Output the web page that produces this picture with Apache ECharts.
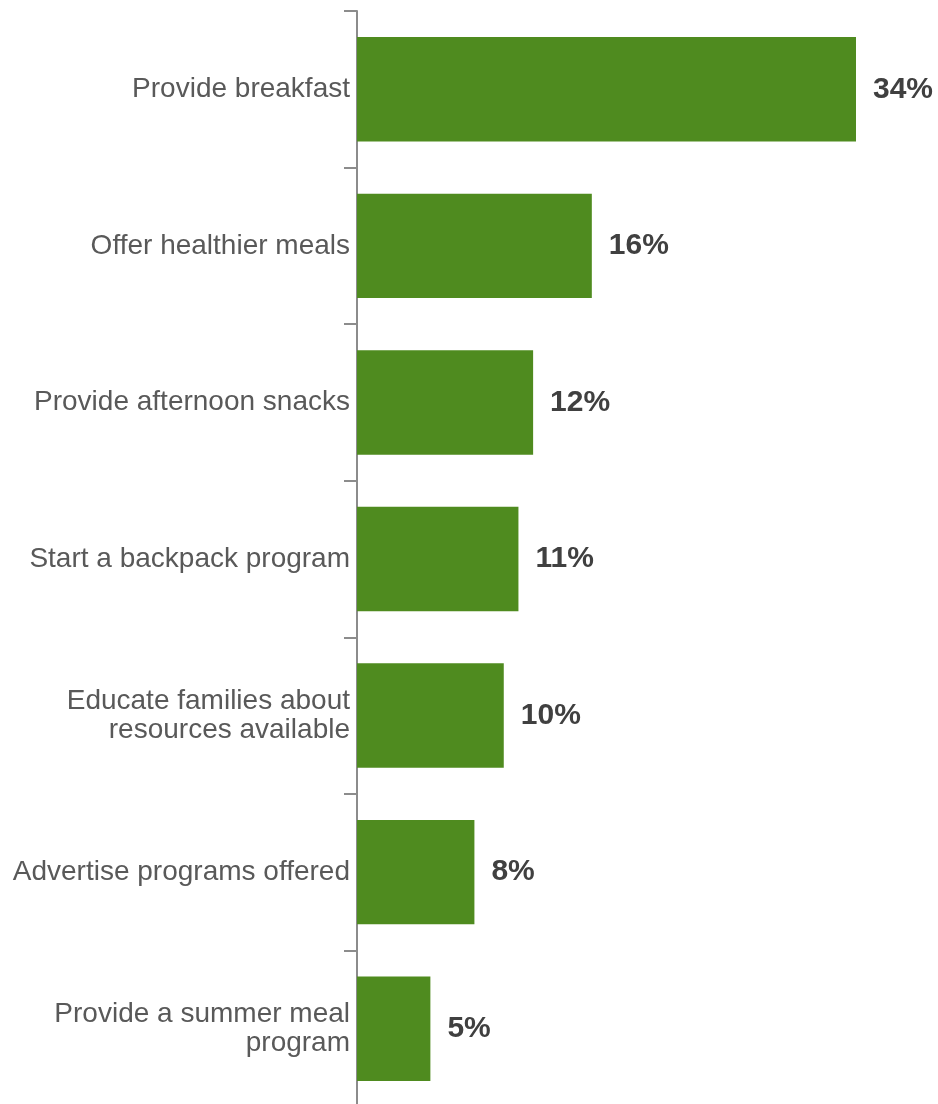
<!DOCTYPE html>
<html>
<head>
<meta charset="utf-8">
<script src="https://cdn.jsdelivr.net/npm/echarts@6/dist/echarts.min.js"></script>
<style>
  html, body { margin: 0; padding: 0; background: #ffffff; }
  #chart { width: 938px; height: 1104px; }
</style>
</head>
<body>
<div id="chart"></div>
<script>
// Ways schools could help students get enough to eat (share of responses)
const categories = [
  'Provide breakfast',
  'Offer healthier meals',
  'Provide afternoon snacks',
  'Start a backpack program',
  'Educate families about\nresources available',
  'Advertise programs offered',
  'Provide a summer meal\nprogram'
];
const shares = [34, 16, 12, 11, 10, 8, 5];

const FONT = "'Liberation Sans', Arial, sans-serif";

const chart = echarts.init(document.getElementById('chart'));
chart.setOption({
  animation: false,
  grid: {
    left: 357, width: 499, top: 11, height: 1096,
    containLabel: false,
    outerBoundsMode: 'none'
  },
  xAxis: {
    type: 'value',
    min: 0,
    max: 34,
    show: false
  },
  yAxis: {
    type: 'category',
    inverse: true,
    data: categories,
    axisLine: { show: true, lineStyle: { color: '#8c8c8c', width: 2 } },
    axisTick: { show: true, length: 13, lineStyle: { color: '#8c8c8c', width: 2 } },
    axisLabel: {
      color: '#595959',
      fontFamily: FONT,
      fontSize: 28,
      lineHeight: 29,
      margin: 7,
      align: 'right'
    },
    splitLine: { show: false }
  },
  series: [{
    type: 'bar',
    data: shares,
    barCategoryGap: '33.3%',
    itemStyle: { color: '#4f8b1f' },
    label: {
      show: true,
      position: 'right',
      distance: 17,
      formatter: '{c}%',
      color: '#404040',
      fontFamily: FONT,
      fontWeight: 'bold',
      fontSize: 30
    }
  }]
});
</script>
</body>
</html>
